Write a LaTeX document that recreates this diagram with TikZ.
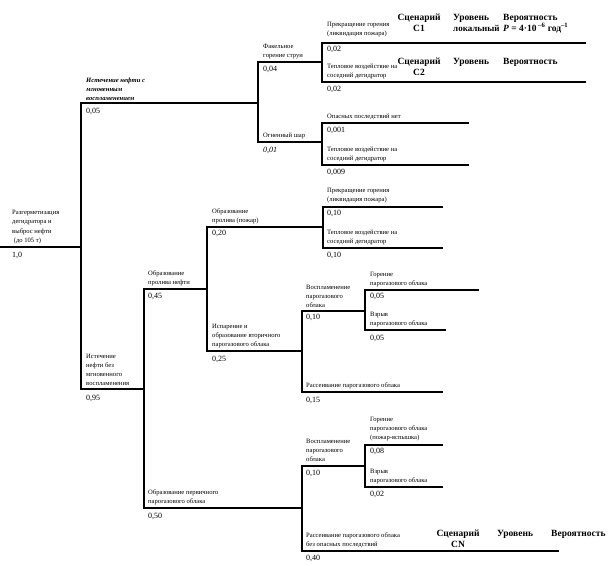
\documentclass[tikz,border=0pt]{standalone}
\usepackage{fontspec}
\setmainfont{Liberation Serif}
\begin{document}
\begin{tikzpicture}[x=1pt,y=-1pt,
  br/.style={line width=1.4pt,line cap=rect},
  lbl/.style={anchor=south west,inner sep=0pt,align=left,font=\fontsize{6.6}{9.2}\selectfont},
  prob/.style={anchor=north west,inner sep=0pt,font=\fontsize{8}{9}\selectfont},
  hdr/.style={anchor=north,inner sep=0pt,align=center,font=\fontsize{9.5}{10.8}\selectfont\bfseries},
  hdrl/.style={anchor=north west,inner sep=0pt,align=left,font=\fontsize{9.5}{10.8}\selectfont\bfseries}]
\useasboundingbox (0,0) rectangle (610,565);
% coordinates
\coordinate (r0) at (0,247);
\coordinate (r1) at (81,247);
\coordinate (a1) at (81,103);
\coordinate (a2) at (81,389);
% top branch
\coordinate (a1e) at (258,103);
\coordinate (b1) at (258,62);
\coordinate (b2) at (258,142);
\coordinate (b1e) at (322,62);
\coordinate (b2e) at (322,142);
\coordinate (l1s) at (322,43);  \coordinate (l1e) at (585,43);
\coordinate (l2s) at (322,82);  \coordinate (l2e) at (585,82);
\coordinate (l3s) at (322,123); \coordinate (l3e) at (468,123);
\coordinate (l4s) at (322,165); \coordinate (l4e) at (468,165);
% lower branch
\coordinate (a2e) at (144,389);
\coordinate (c1) at (144,289);
\coordinate (c2) at (144,508);
\coordinate (c1e) at (207,289);
\coordinate (d1) at (207,227);
\coordinate (d2) at (207,351);
\coordinate (d1e) at (323,227);
\coordinate (l5s) at (323,207); \coordinate (l5e) at (442,207);
\coordinate (l6s) at (323,248); \coordinate (l6e) at (442,248);
\coordinate (d2e) at (302,351);
\coordinate (e1) at (302,311);
\coordinate (e1e) at (365,311);
\coordinate (l7s) at (365,290); \coordinate (l7e) at (478,290);
\coordinate (l8s) at (365,330); \coordinate (l8e) at (445,330);
\coordinate (l9s) at (302,392); \coordinate (l9e) at (442,392);
\coordinate (c2e) at (302,508);
\coordinate (f1) at (302,466);
\coordinate (f1e) at (365,466);
\coordinate (l10s) at (365,445); \coordinate (l10e) at (442,445);
\coordinate (l11s) at (365,487); \coordinate (l11e) at (442,487);
\coordinate (l12s) at (302,551); \coordinate (l12e) at (558,551);
% branches
\draw[br] (r0) -- (r1);
\draw[br] (a1e) -- (a1) -- (a2) -- (a2e);
\draw[br] (b1e) -- (b1) -- (b2) -- (b2e);
\draw[br] (l1e) -- (l1s) -- (l2s) -- (l2e);
\draw[br] (l3e) -- (l3s) -- (l4s) -- (l4e);
\draw[br] (c1e) -- (c1) -- (c2) -- (c2e);
\draw[br] (d1e) -- (d1) -- (d2) -- (d2e);
\draw[br] (l5e) -- (l5s) -- (l6s) -- (l6e);
\draw[br] (e1e) -- (e1) -- (l9s) -- (l9e);
\draw[br] (l7e) -- (l7s) -- (l8s) -- (l8e);
\draw[br] (f1e) -- (f1) -- (l12s) -- (l12e);
\draw[br] (l10e) -- (l10s) -- (l11s) -- (l11e);
% labels
\node[lbl] (t0) at (12,244) {Разгерметизация\\дегидратора и\\выброс нефти\\\ (до 105 т)};
\node[prob] (p0) at (12,252) {1,0};
\node[lbl,font=\fontsize{6.6}{9.2}\selectfont\itshape\bfseries] (ta) at (86,101) {Истечение нефти с\\мгновенным\\воспламенением};
\node[prob] (pa) at (86,108) {0,05};
\node[lbl] (tb1) at (263,59) {Факельное\\горение струи};
\node[prob] (pb1) at (263,66) {0,04};
\node[lbl] (t1) at (327,37) {Прекращение горения\\(ликвидация пожара)};
\node[prob] (p1) at (327,46) {0,02};
\node[lbl] (t2) at (327,79) {Тепловое воздействие на\\соседний дегидратор};
\node[prob] (p2) at (327,86) {0,02};
\node[lbl] (tb2) at (263,139) {Огненный шар};
\node[prob,font=\fontsize{8}{9}\selectfont\itshape] (pb2) at (263,147) {0,01};
\node[lbl] (t3) at (327,120) {Опасных последствий нет};
\node[prob] (p3) at (327,127) {0,001};
\node[lbl] (t4) at (327,162) {Тепловое воздействие на\\соседний дегидратор};
\node[prob] (p4) at (327,169) {0,009};
\node[lbl] (tab) at (86,386) {Истечение\\нефти без\\мгновенного\\воспламенения};
\node[prob] (pab) at (86,395) {0,95};
\node[lbl] (tc1) at (148,286) {Образование\\пролива нефти};
\node[prob] (pc1) at (148,293) {0,45};
\node[lbl] (td1) at (212,224) {Образование\\пролива (пожар)};
\node[prob] (pd1) at (212,230) {0,20};
\node[lbl] (t5) at (327,203) {Прекращение горения\\(ликвидация пожара)};
\node[prob] (p5) at (327,210) {0,10};
\node[lbl] (t6) at (327,245) {Тепловое воздействие на\\соседний дегидратор};
\node[prob] (p6) at (327,252) {0,10};
\node[lbl] (td2) at (212,348) {Испарение и\\образование вторичного\\парогазового облака};
\node[prob] (pd2) at (212,356) {0,25};
\node[lbl] (te1) at (306,308) {Воспламенение\\парогазового\\облака};
\node[prob] (pe1) at (306,314) {0,10};
\node[lbl] (t7) at (370,287) {Горение\\парогазового облака};
\node[prob] (p7) at (370,293) {0,05};
\node[lbl] (t8) at (370,327) {Взрыв\\парогазового облака};
\node[prob] (p8) at (370,335) {0,05};
\node[lbl] (t9) at (306,389) {Рассеивание парогазового облака};
\node[prob] (p9) at (306,397) {0,15};
\node[lbl] (tc2) at (148,505) {Образование первичного\\парогазового облака};
\node[prob] (pc2) at (148,513) {0,50};
\node[lbl] (tf1) at (306,462) {Воспламенение\\парогазового\\облака};
\node[prob] (pf1) at (306,470) {0,10};
\node[lbl] (t10) at (370,441) {Горение\\парогазового облака\\(пожар-вспышка)};
\node[prob] (p10) at (370,448) {0,08};
\node[lbl] (t11) at (370,484) {Взрыв\\парогазового облака};
\node[prob] (p11) at (370,491) {0,02};
\node[lbl] (t12) at (306,548) {Рассеивание парогазового облака\\без опасных последствий};
\node[prob] (p12) at (306,555) {0,40};
% scenario headers
\node[hdr] (s1) at (419,14) {Сценарий\\C1};
\node[hdrl] (u1) at (453,14) {Уровень\\{\fontsize{9}{10.8}\selectfont локальный}};
\node[hdrl] (v1) at (503,14) {Вероятность\\\textit{P} = 4·10\,\textsuperscript{–6} год\textsuperscript{–1}};
\node[hdr] (s2) at (419,58) {Сценарий\\C2};
\node[hdrl] (u2) at (453,58) {Уровень};
\node[hdrl] (v2) at (503,58) {Вероятность};
\node[hdr] (s3) at (458,530) {Сценарий\\CN};
\node[hdrl] (u3) at (497,530) {Уровень};
\node[hdrl] (v3) at (551,530) {Вероятность};
\end{tikzpicture}
\end{document}
